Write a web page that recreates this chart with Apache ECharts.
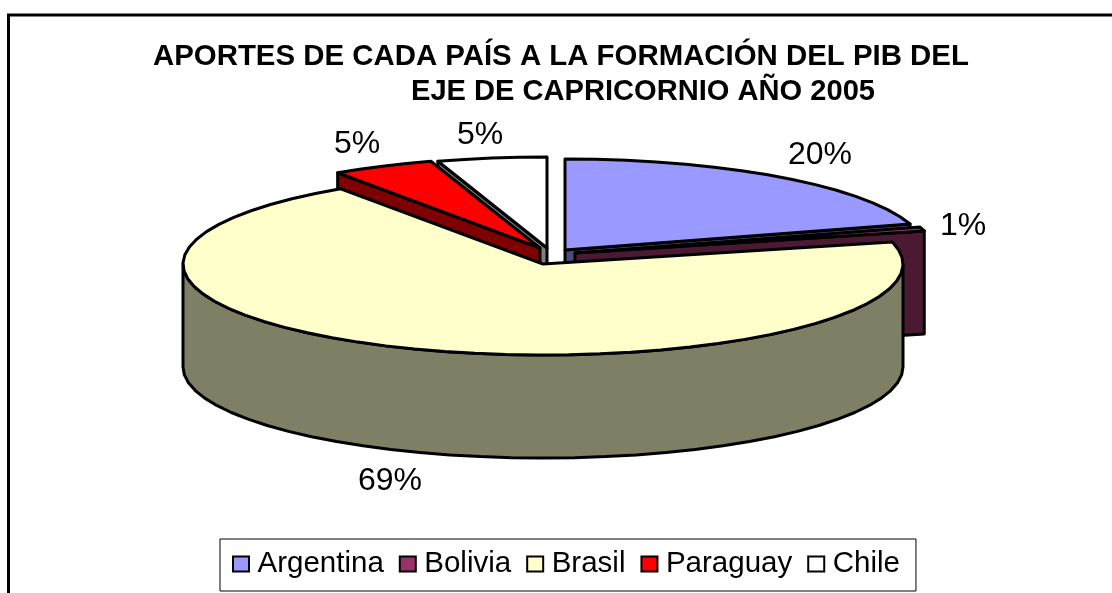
<!DOCTYPE html>
<html><head><meta charset="utf-8">
<style>html,body{margin:0;padding:0;background:#fff}#c{width:1112px;height:593px}</style>
<script src="https://cdn.jsdelivr.net/npm/echarts@6/dist/echarts.min.js"></script>
</head><body><div id="c"></div>
<script>
var categories = ['Argentina','Bolivia','Brasil','Paraguay','Chile'];
var values = [20.4,0.7,69.4,4.6,4.9];
var titleLines = ['APORTES DE CADA PAÍS A LA FORMACIÓN DEL PIB DEL','EJE DE CAPRICORNIO AÑO 2005'];

var topColors = ['#9999FF','#993366','#FFFFCC','#FF0000','#FFFFFF'];
var sideColors = ['#4C4C7F','#4C1933','#7F7F66','#7F0000','#7F7F7F'];
var centers = [[565,250],[575,253],[543,264],[540,248],[547,248]];
var labelPos = [[820,155],[963,226],[390,481],[357,144],[480,135.5]];
var drawOrder = [4,3,0,1,2];
var RX = 360, RY = 91, DEPTH = 103, STEP = 5, LW = 3;

var total = values.reduce(function(a,b){return a+b;},0);
var starts = [], acc = 0;
values.forEach(function(v){ starts.push(acc/total*360); acc += v; });

function pt(c,deg,dy){
  var r = deg*Math.PI/180;
  return [c[0]+RX*Math.sin(r), c[1]-RY*Math.cos(r)+(dy||0)];
}
function arc(c,a,b,dy){
  var out = [], n = Math.max(1,Math.ceil((b-a)/STEP));
  for (var i=0;i<=n;i++) out.push(pt(c,a+(b-a)*i/n,dy));
  return out;
}
function poly(points,fill,z2){
  return {type:'polygon',z2:z2,shape:{points:points},
    style:{fill:fill,stroke:'#000',lineWidth:LW,lineJoin:'round'}};
}
function renderSlice(idx){
  return function(params,api){
    var v = api.value(0);
    var a = starts[idx], b = a+v/total*360, c = centers[idx], kids = [];
    var side = sideColors[idx];
    var quad = function(t){
      var p = pt(c,t,0);
      return [[c[0],c[1]],p,[p[0],p[1]+DEPTH],[c[0],c[1]+DEPTH]];
    };
    if (a>180) kids.push(poly(quad(a),side,1));
    if (b<180 && b>0) kids.push(poly(quad(b),side,1));
    var fa = Math.max(a,90), fb = Math.min(b,270);
    if (fb>fa) kids.push(poly(arc(c,fa,fb,0).concat(arc(c,fa,fb,DEPTH).reverse()),side,2));
    kids.push(poly([[c[0],c[1]]].concat(arc(c,a,b,0)),topColors[idx],3));
    kids.push({type:'text',z2:4,style:{
      text:Math.round(v/total*100)+'%',x:labelPos[idx][0],y:labelPos[idx][1],
      fill:'#000',font:'32px "Liberation Sans", Arial, sans-serif',align:'center',verticalAlign:'middle'}});
    return {type:'group',children:kids};
  };
}
var series = drawOrder.map(function(i,order){
  return {type:'custom',name:categories[i],coordinateSystem:'none',z:2+order,
    animation:false,silent:true,
    itemStyle:{color:topColors[i]},
    data:[[values[i]]],renderItem:renderSlice(i)};
});
var titleFont = {fontFamily:'"Liberation Sans", Arial, sans-serif',fontWeight:'bold',fontSize:29.4,color:'#000'};
var titleFont2 = {fontFamily:'"Liberation Sans", Arial, sans-serif',fontWeight:'bold',fontSize:29.1,color:'#000'};
var chart = echarts.init(document.getElementById('c'),null,{renderer:'canvas'});
chart.setOption({
  animation:false,backgroundColor:'#fff',
  title:[
    {text:titleLines[0],left:153,top:42,padding:0,textStyle:titleFont},
    {text:titleLines[1],left:411,top:77,padding:0,textStyle:titleFont2}
  ],
  graphic:[{type:'polyline',silent:true,z:1,
    shape:{points:[[8.5,593],[8.5,15],[1112,15]]},
    style:{fill:null,stroke:'#000',lineWidth:3}}],
  legend:{
    left:220,top:539,selectedMode:false,orient:'horizontal',
    padding:[10,16,12,12],itemGap:15,itemWidth:16,itemHeight:15,
    backgroundColor:'#fff',borderColor:'#000',borderWidth:1,
    textStyle:{fontFamily:'"Liberation Sans", Arial, sans-serif',fontSize:29.5,color:'#000',padding:[0,0,0,3.5]},
    data:categories.map(function(n,i){
      return {name:n,icon:'rect',itemStyle:{color:topColors[i],borderColor:'#000',borderWidth:2}};
    })
  },
  series:series
});
</script></body></html>
